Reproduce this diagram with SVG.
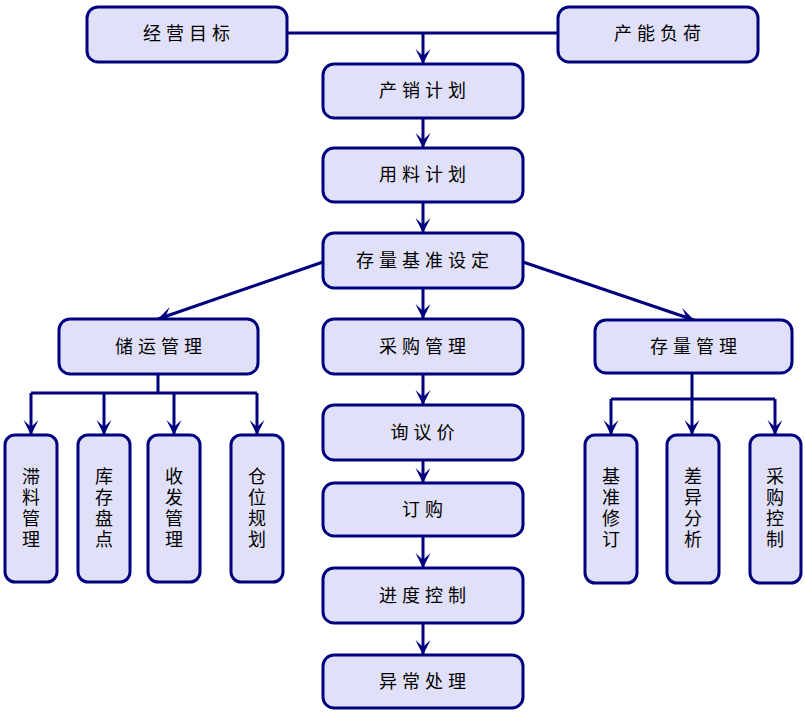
<svg xmlns="http://www.w3.org/2000/svg" width="805" height="716" viewBox="0 0 805 716">
<style>
.box{fill:#E0E0F8;stroke:#00007F;stroke-width:3}
.t{font-family:"Noto Sans CJK SC","Noto Sans",sans-serif;font-size:18px;fill:#000;text-anchor:middle;letter-spacing:5px}
.v{font-family:"Noto Sans CJK SC","Noto Sans",sans-serif;font-size:18px;fill:#000;text-anchor:middle;writing-mode:vertical-rl;letter-spacing:3px}
.ln{fill:none;stroke:#00007F;stroke-width:3}
.ar{marker-end:url(#ah)}
</style>
<defs>
<marker id="ah" markerUnits="userSpaceOnUse" markerWidth="16" markerHeight="16" refX="15" refY="8" orient="auto" viewBox="0 0 16 16">
<path d="M15,8 L0,0.5 L7,8 L0,15.5 z" fill="#00007F"/>
</marker>
</defs>
<g id="connectors">
<path class="ln" d="M287,33 H558"/>
<path class="ln ar" d="M423,33 V64"/>
<path class="ln ar" d="M423,118 V148"/>
<path class="ln ar" d="M423,202 V233"/>
<path class="ln ar" d="M423,288 V319"/>
<path class="ln ar" d="M323,262 L158,319"/>
<path class="ln ar" d="M523,262 L694,320"/>
<path class="ln ar" d="M423,374 V405"/>
<path class="ln ar" d="M423,460 V483"/>
<path class="ln ar" d="M423,536 V568"/>
<path class="ln ar" d="M423,623 V655"/>
<path class="ln" d="M158,374 V393 M31,393 H257"/>
<path class="ln ar" d="M31,393 V435"/>
<path class="ln ar" d="M104,393 V435"/>
<path class="ln ar" d="M174,393 V435"/>
<path class="ln ar" d="M257,393 V435"/>
<path class="ln" d="M692,373 V399 M611,399 H775"/>
<path class="ln ar" d="M611,399 V435"/>
<path class="ln ar" d="M692,399 V435"/>
<path class="ln ar" d="M775,399 V435"/>
</g>
<g id="n1"><rect class="box" x="87" y="7" width="200" height="55" rx="11"/><text class="t" x="189" y="40">经营目标</text></g>
<g id="n2"><rect class="box" x="558" y="7" width="200" height="55" rx="11"/><text class="t" x="660" y="40">产能负荷</text></g>
<g id="n3"><rect class="box" x="323" y="64" width="200" height="54" rx="11"/><text class="t" x="425" y="97">产销计划</text></g>
<g id="n4"><rect class="box" x="323" y="148" width="200" height="54" rx="11"/><text class="t" x="425" y="181">用料计划</text></g>
<g id="n5"><rect class="box" x="323" y="233" width="200" height="55" rx="11"/><text class="t" x="425" y="267">存量基准设定</text></g>
<g id="n6"><rect class="box" x="59" y="319" width="199" height="55" rx="11"/><text class="t" x="161" y="353">储运管理</text></g>
<g id="n7"><rect class="box" x="323" y="319" width="200" height="55" rx="11"/><text class="t" x="425" y="353">采购管理</text></g>
<g id="n8"><rect class="box" x="595" y="320" width="197" height="53" rx="11"/><text class="t" x="696" y="353">存量管理</text></g>
<g id="n9"><rect class="box" x="323" y="405" width="200" height="55" rx="11"/><text class="t" x="425" y="439">询议价</text></g>
<g id="n10"><rect class="box" x="323" y="483" width="200" height="53" rx="11"/><text class="t" x="425" y="516">订购</text></g>
<g id="n11"><rect class="box" x="323" y="568" width="200" height="55" rx="11"/><text class="t" x="425" y="602">进度控制</text></g>
<g id="n12"><rect class="box" x="323" y="655" width="200" height="53" rx="11"/><text class="t" x="425" y="688">异常处理</text></g>
<g id="n13"><rect class="box" x="5" y="435" width="52" height="147" rx="10"/><text class="v" x="31" y="509">滞料管理</text></g>
<g id="n14"><rect class="box" x="78" y="435" width="52" height="147" rx="10"/><text class="v" x="104" y="509">库存盘点</text></g>
<g id="n15"><rect class="box" x="148" y="435" width="52" height="147" rx="10"/><text class="v" x="174" y="509">收发管理</text></g>
<g id="n16"><rect class="box" x="231" y="435" width="52" height="147" rx="10"/><text class="v" x="257" y="509">仓位规划</text></g>
<g id="n17"><rect class="box" x="585" y="435" width="52" height="148" rx="10"/><text class="v" x="611" y="509">基准修订</text></g>
<g id="n18"><rect class="box" x="667" y="435" width="52" height="148" rx="10"/><text class="v" x="693" y="509">差异分析</text></g>
<g id="n19"><rect class="box" x="750" y="435" width="51" height="148" rx="10"/><text class="v" x="775" y="509">采购控制</text></g>
</svg>
